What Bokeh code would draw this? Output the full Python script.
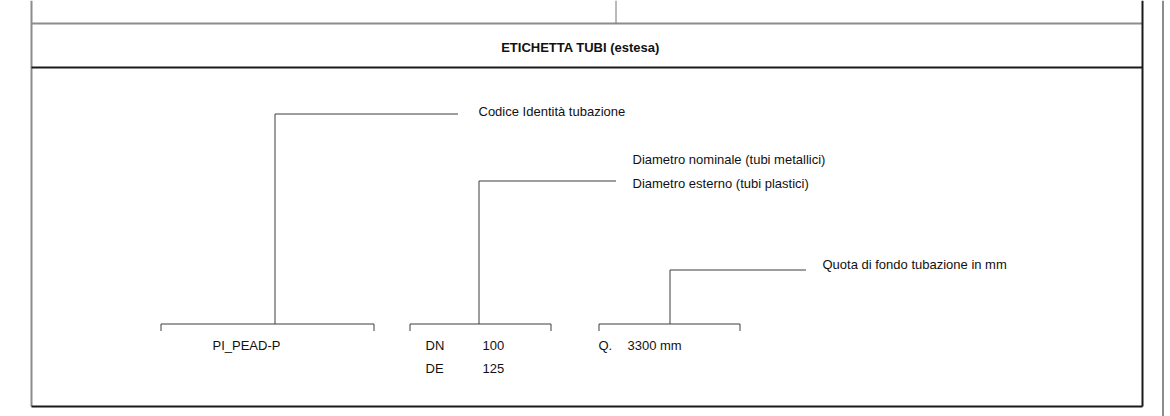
from bokeh.plotting import figure
from bokeh.models import Range1d, ColumnDataSource
from bokeh.core.properties import value
from bokeh.embed import file_html
from bokeh.resources import INLINE

# ---- content (coordinates in page pixels) ----
frame_gray_x0 = [31, 31]
frame_gray_y0 = [0, 23]
frame_gray_x1 = [31, 1142]
frame_gray_y1 = [406, 23]

frame_black_x0 = [31, 31, 1142]
frame_black_y0 = [67, 406, 0]
frame_black_x1 = [1142, 1142, 1142]
frame_black_y1 = [67, 406, 406]

divider_x = [615, 1162]
divider_y0 = [0, 0]
divider_y1 = [23, 416]

# brackets: left, right, stem x, bracket y, leader y, leader end x
br_left = [160, 409, 598]
br_right = [373, 550, 739]
br_stem = [274, 478, 669]
br_y = [323, 323, 323]
leader_y = [113, 180, 269]
leader_end = [457, 615, 805]
tick_len = 7

title = "ETICHETTA TUBI (estesa)"
label_texts = ["Codice Identità tubazione",
               "Diametro nominale (tubi metallici)",
               "Diametro esterno (tubi plastici)",
               "Quota di fondo tubazione in mm",
               "PI_PEAD-P", "DN", "100", "DE", "125", "Q.", "3300 mm"]
label_x = [478, 632, 632, 822, 212, 425, 482, 425, 482, 598, 627]
label_y = [111, 159, 183, 264, 345, 345, 345, 368, 368, 345, 345]

W, H = 1170, 416
p = figure(width=W, height=H, output_backend="svg", toolbar_location=None,
           x_range=Range1d(0, W), y_range=Range1d(H, 0),
           min_border=0, outline_line_color=None, tools="")
p.axis.visible = False
p.grid.visible = False
p.background_fill_color = "white"
p.border_fill_color = "white"

def px(v):
    return [a + 0.5 for a in v]

# frame
p.segment(frame_gray_x0, frame_gray_y0, frame_gray_x1, frame_gray_y1,
          line_color="#8c8c8c", line_width=2)
p.segment(frame_black_x0, frame_black_y0, frame_black_x1, frame_black_y1,
          line_color="#1a1a1a", line_width=2)
p.segment(px(divider_x), divider_y0, px(divider_x), divider_y1,
          line_color=["#777777", "#1a1a1a"], line_width=1)

# brackets and leaders
lc = "#3c3c3c"
sx0, sy0, sx1, sy1 = [], [], [], []
for l, r, s, y, ly, le in zip(br_left, br_right, br_stem, br_y, leader_y, leader_end):
    sx0.append(l); sy0.append(y); sx1.append(r); sy1.append(y)
    sx0.append(l); sy0.append(y); sx1.append(l); sy1.append(y + tick_len)
    sx0.append(r); sy0.append(y); sx1.append(r); sy1.append(y + tick_len)
    sx0.append(s); sy0.append(ly); sx1.append(s); sy1.append(y)
    sx0.append(s); sy0.append(ly); sx1.append(le); sy1.append(ly)
p.segment(px(sx0), px(sy0), px(sx1), px(sy1), line_color=lc, line_width=1)

FONT = value("Liberation Sans")

# title
p.text(x=[580], y=[47], text=[title], text_font=FONT,
       text_font_size="13px", text_font_style="bold", text_align="center",
       text_baseline="middle", text_color="#111111")

# labels
src = ColumnDataSource(dict(x=label_x, y=label_y, t=label_texts))
p.text(x="x", y="y", text="t", source=src, text_font=FONT,
       text_font_size="13px", text_align="left", text_baseline="middle",
       text_color="#111111")

open("out.html", "w").write(file_html(p, INLINE))
